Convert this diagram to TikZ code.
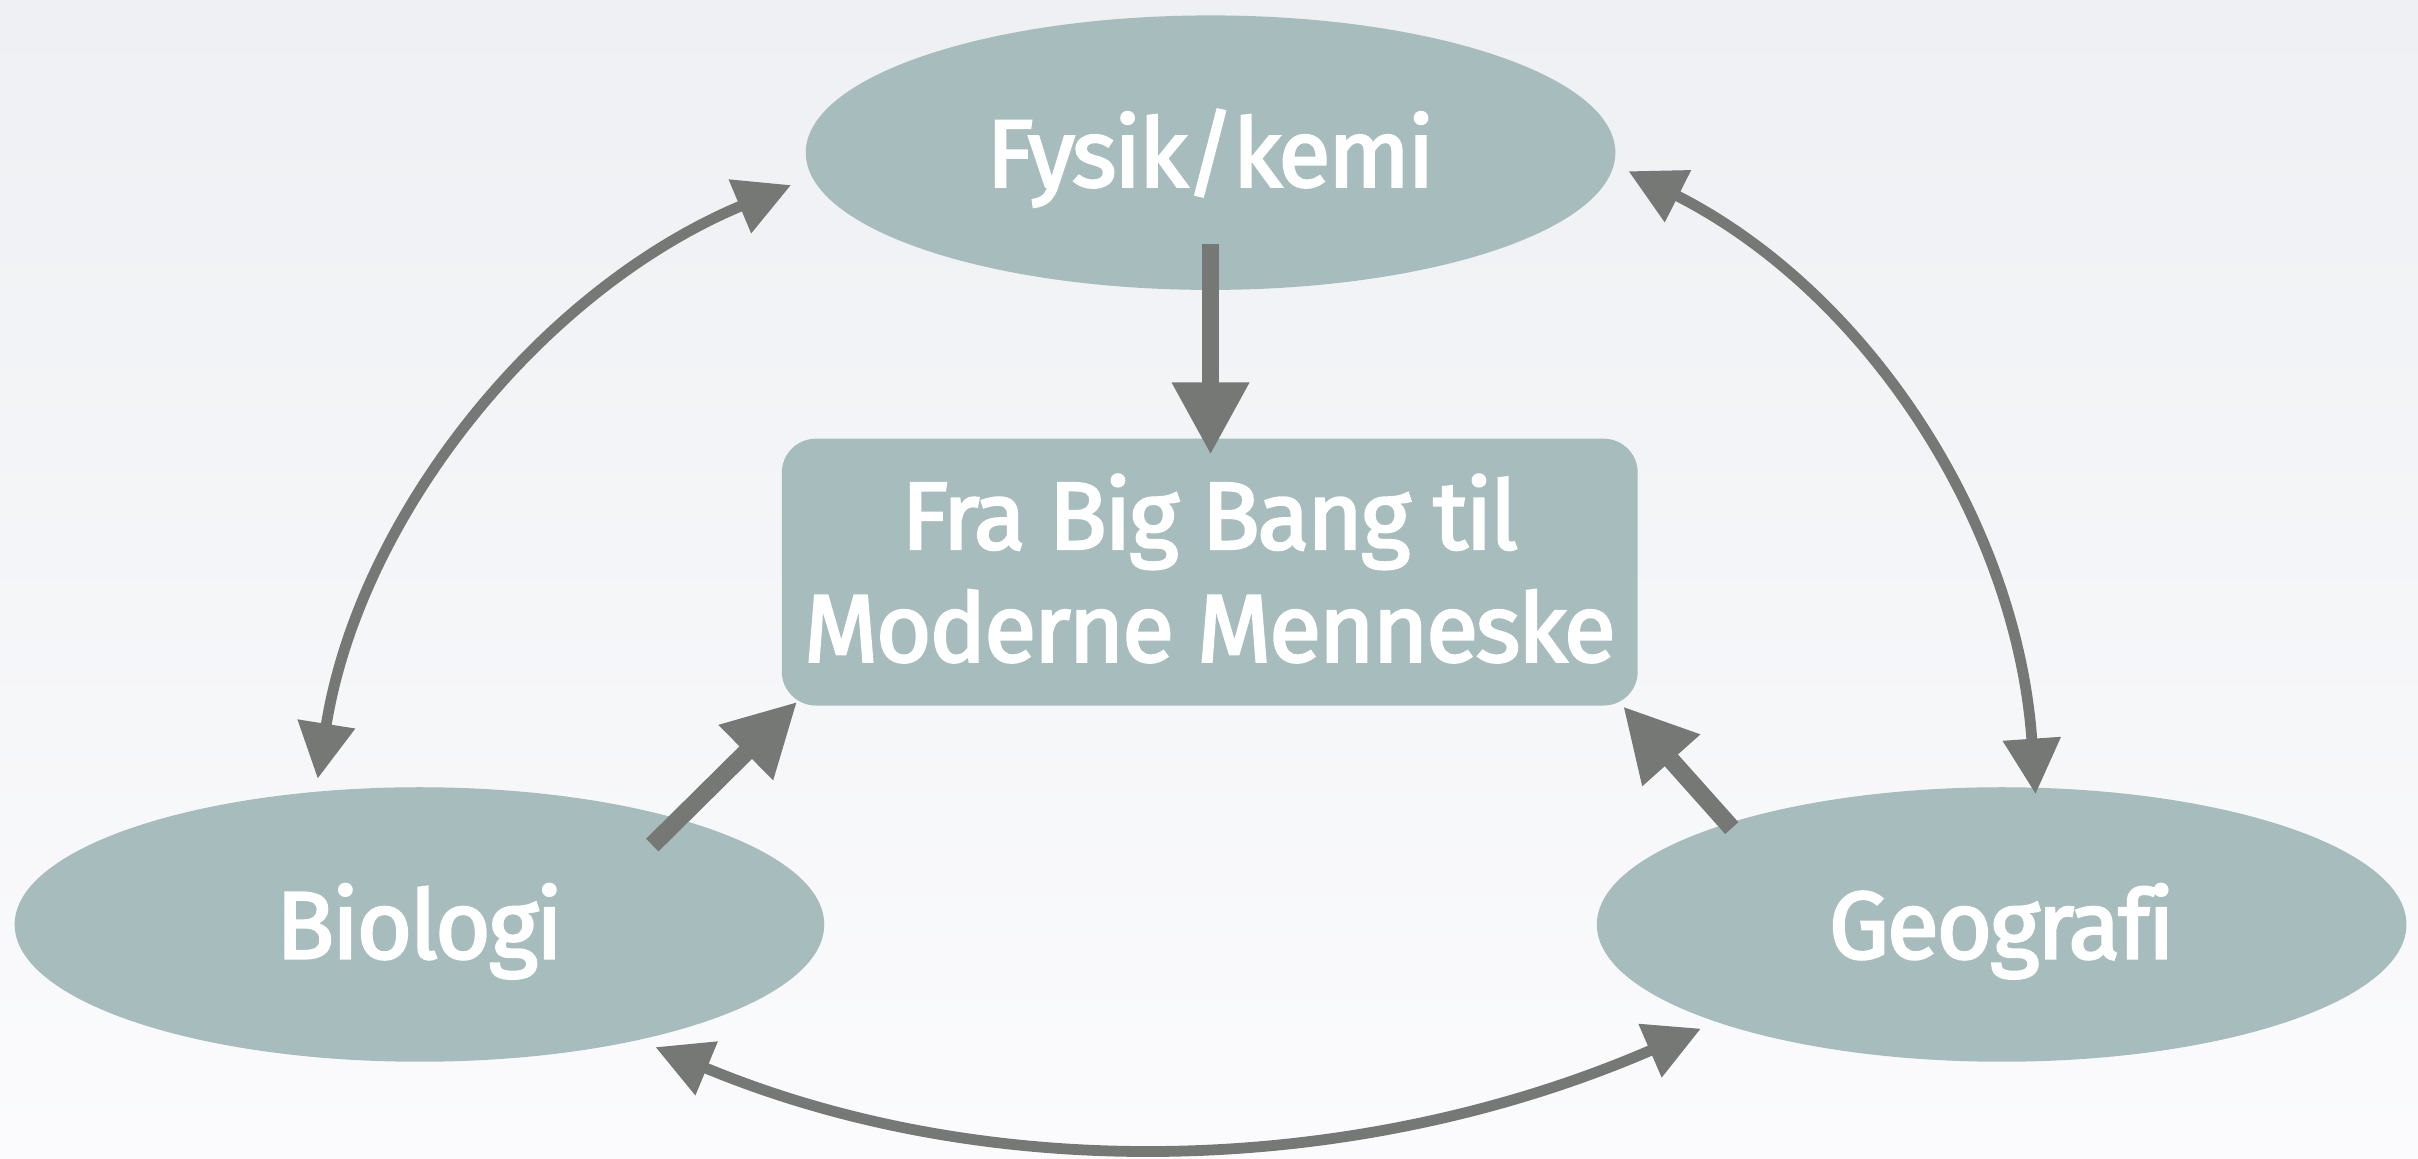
\documentclass[tikz,border=0pt]{standalone}
\usepackage{fontspec}
\setmainfont{Fira Sans}[FakeBold=2.5, LetterSpace=-2.5, Ligatures=NoCommon]
\usetikzlibrary{shapes.geometric,arrows.meta}
\definecolor{nodefill}{HTML}{A7BCBC}
\definecolor{arrowgray}{HTML}{767876}
\definecolor{bgtop}{HTML}{EEF0F3}
\definecolor{bgbot}{HTML}{FBFBFD}
\tikzset{
  subj/.style={ellipse, fill=nodefill, minimum width=525pt, minimum height=178pt,
    inner sep=0pt, text=white, font=\fontsize{62}{73}\selectfont,
    text height=44pt, text depth=0pt},
  topic/.style={rectangle, rounded corners=22pt, fill=nodefill, minimum width=555pt,
    minimum height=173pt, inner sep=0pt, text=white, align=center,
    font=\fontsize{62}{73}\selectfont, text height=116pt, text depth=0pt},
  thinarrow/.style={draw=arrowgray, line width=7pt,
    {Triangle[length=36pt,width=36pt]}-{Triangle[length=36pt,width=36pt]}},
  thickarrow/.style={draw=arrowgray, line width=11.5pt,
    -{Triangle[length=47pt,width=47pt]}}
}
\begin{document}
\begin{tikzpicture}[x=1pt,y=-1pt]
\fill[top color=bgtop, bottom color=bgbot] (0,0) rectangle (1568,751);
\useasboundingbox (0,0) rectangle (1568,751);

\node[subj] (fys) at (785,99) {Fysik/kemi};
\node[subj] (bio) at (272,599.5) {Biologi};
\node[subj] (geo) at (1298,599.5) {Geografi};
\node[topic] (mid) at (784.5,371) {Fra Big Bang til\\Moderne Menneske};

% connector end points
\coordinate (bioTop) at (206,505);
\coordinate (fysLeft) at (513,120);
\coordinate (fysRight) at (1056,111);
\coordinate (geoTop) at (1320,515);
\coordinate (bioLow) at (425,679);
\coordinate (geoLow) at (1103,667);
\coordinate (fysIn) at (785,158);
\coordinate (midTop) at (785,295);
\coordinate (bioIn) at (423,548);
\coordinate (midLeft) at (517,455);
\coordinate (geoIn) at (1123,537);
\coordinate (midRight) at (1052.5,458);

\draw[thinarrow] (bioTop) .. controls (233,335) and (350,188) .. (fysLeft);
\draw[thinarrow] (fysRight) .. controls (1212,190) and (1308,340) .. (geoTop);
\draw[thinarrow] (bioLow) .. controls (646,771) and (884,762) .. (geoLow);

\draw[thickarrow] (fysIn) -- (midTop);
\draw[thickarrow] (bioIn) -- (midLeft);
\draw[thickarrow] (geoIn) -- (midRight);
\end{tikzpicture}
\end{document}
